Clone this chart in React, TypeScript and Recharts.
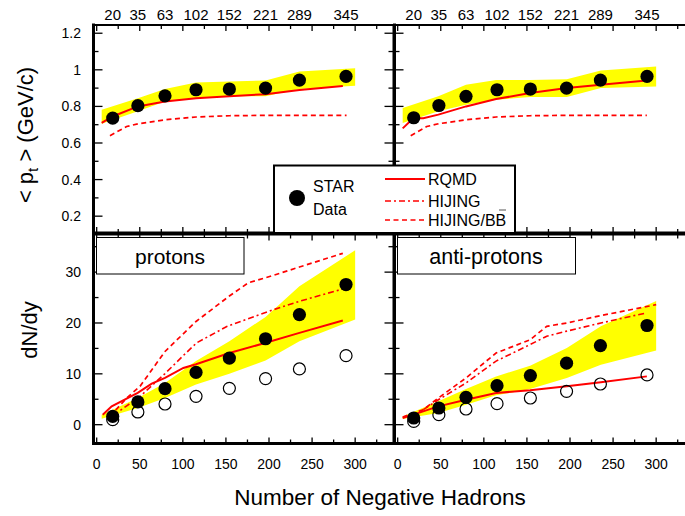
import React from 'react';
import { ComposedChart, Area, Line, Scatter, XAxis, YAxis } from 'recharts';

// ---------------- ticks & labels ----------------
const xMajorTicks = [0, 50, 100, 150, 200, 250, 300];
const xMinorTicks = [25, 75, 125, 175, 225, 275, 325];
const xBottomLabels = ['0', '50', '100', '150', '200', '250', '300'];
const centralityX = [18.6, 47.8, 79.3, 115.3, 154, 196, 235.3, 289.4];
const centralityLabels = ['20', '35', '63', '102', '152', '221', '289', '345'];
const ptMajorTicks = [0.2, 0.4, 0.6, 0.8, 1, 1.2];
const ptMinorTicks = [0.3, 0.5, 0.7, 0.9, 1.1];
const ptTickLabels = ['0.2', '0.4', '0.6', '0.8', '1', '1.2'];
const dnMajorTicks = [0, 10, 20, 30];
const dnMinorTicks = [5, 15, 25, 35];
const dnTickLabels = ['0', '10', '20', '30'];

// ---------------- <pt> protons ----------------
const ptProtonStar = [0.736, 0.804, 0.858, 0.891, 0.895, 0.9, 0.944, 0.964];
const ptProtonBandX = [5.8, 47.8, 79.3, 115.3, 154, 196, 235.3, 300];
const ptProtonBandLo = [0.705, 0.773, 0.827, 0.845, 0.855, 0.855, 0.895, 0.913];
const ptProtonBandHi = [0.782, 0.845, 0.895, 0.931, 0.936, 0.942, 0.991, 1.009];
const ptProtonRqmdX = [5.8, 18.4, 47.8, 79.3, 115.3, 154, 196, 235.3, 285.7];
const ptProtonRqmd = [0.71, 0.745, 0.8, 0.827, 0.845, 0.855, 0.867, 0.89, 0.911];
const ptProtonBBX = [15.4, 34.8, 47.8, 79.3, 115.3, 154, 196, 235.3, 290];
const ptProtonBB = [0.64, 0.69, 0.705, 0.727, 0.742, 0.749, 0.751, 0.751, 0.751];

// ---------------- <pt> anti-protons ----------------
const ptAntiStar = [0.738, 0.805, 0.855, 0.891, 0.895, 0.9, 0.944, 0.964];
const ptAntiBandX = [5.8, 47.2, 79.3, 114.2, 153.7, 196.3, 235.8, 300];
const ptAntiBandLo = [0.709, 0.773, 0.809, 0.836, 0.851, 0.851, 0.9, 0.909];
const ptAntiBandHi = [0.791, 0.855, 0.918, 0.945, 0.945, 0.949, 0.996, 1.018];
const ptAntiRqmdX = [5.8, 18.1, 29.7, 47.2, 79.3, 114.2, 153.7, 196.3, 235.8, 289.2];
const ptAntiRqmd = [0.68, 0.735, 0.735, 0.755, 0.8, 0.84, 0.873, 0.9, 0.918, 0.942];
const ptAntiBBX = [15.1, 33.7, 47.2, 79.3, 114.2, 153.7, 196.3, 235.8, 289.2];
const ptAntiBB = [0.64, 0.69, 0.705, 0.727, 0.742, 0.749, 0.751, 0.751, 0.751];

// ---------------- dN/dy protons ----------------
const dnProtonStar = [1.63, 4.47, 7.09, 10.3, 13.1, 16.9, 21.65, 27.56];
const dnProtonOpen = [0.98, 2.5, 4.07, 5.57, 7.15, 9.06, 10.96, 13.58];
const dnProtonBandX = [5.8, 47.8, 79.3, 115.3, 154, 196, 235.3, 300];
const dnProtonBandLo = [1.18, 3.28, 5.26, 7.9, 10.0, 12.6, 16.4, 20.7];
const dnProtonBandHi = [1.97, 5.25, 8.2, 12.5, 16.4, 21.2, 27.2, 34.3];
const dnProtonRqmdX = [7.0, 17.4, 47.6, 63.9, 79.3, 100.6, 115.3, 154, 196.3, 235.3, 285.7];
const dnProtonRqmd = [1.97, 3.6, 6.24, 8.07, 9.19, 11.16, 11.9, 14.1, 16.1, 18.05, 20.5];
const dnProtonBBX = [15.4, 34.8, 50.3, 79.3, 115.3, 154, 176, 196.3, 235.3, 285.7];
const dnProtonBB = [1.63, 5.25, 7.54, 14.4, 20.3, 25.3, 27.9, 28.9, 31.0, 33.7];
const dnProtonHijX = [19, 50, 79, 100, 116, 151, 205, 236, 290];
const dnProtonHij = [1.8, 5.5, 10, 13.5, 16.1, 19.3, 22.6, 24.3, 26.9];

// ---------------- dN/dy anti-protons ----------------
const dnAntiStar = [1.31, 3.28, 5.38, 7.68, 9.65, 12.1, 15.55, 19.5];
const dnAntiOpen = [0.65, 1.97, 3.08, 4.13, 5.25, 6.56, 8.0, 9.78];
const dnAntiBandX = [5.8, 47.2, 79.3, 114.2, 153.7, 196.3, 235.8, 300];
const dnAntiBandLo = [1.12, 2.3, 3.94, 5.77, 7.0, 9.19, 11.8, 14.6];
const dnAntiBandHi = [1.63, 4.6, 7.0, 9.5, 11.6, 15.1, 19.35, 24.3];
const dnAntiRqmdX = [5.8, 18.1, 47.2, 79.3, 114.2, 153.7, 196.3, 235.8, 289.2];
const dnAntiRqmd = [1.31, 1.97, 3.6, 4.9, 6.24, 6.76, 7.55, 8.33, 9.5];
const dnAntiBBX = [5.8, 29.7, 47.2, 79.3, 114.2, 153.7, 173, 196.3, 235.8, 300];
const dnAntiBB = [1.5, 2.95, 5.25, 9.19, 14.1, 16.7, 19.35, 20.0, 21.45, 23.6];
const dnAntiHijX = [29.7, 47.2, 79.3, 114.2, 153.7, 173, 196.3, 235.8, 289.2];
const dnAntiHij = [2.95, 4.9, 8.2, 12.5, 15.75, 17.4, 18.4, 20.0, 22.0];

// ---------------- styling ----------------
const FONT = '"Liberation Sans", Arial, Helvetica, sans-serif';
const RED = '#ff0000';
const YELLOW = '#ffff00';
const W = 700;
const H = 516;
const X_DOMAIN: [number, number] = [-3.7, 344.5];
const PT_DOMAIN: [number, number] = [0.108, 1.245];
const DN_DOMAIN: [number, number] = [-3.7, 37.4];
const DASH = '5 3.5';
const DASHDOT = '6 3 2 3';

type Side = 'left' | 'right' | 'top' | 'bottom';

const idxOf = (arr: number[], v: number) => arr.findIndex((a) => Math.abs(a - v) < 1e-6);

const makeTick =
  (side: Side, majors: number[], minors: number[], labelValues: number[], labelTexts: string[], fontSize: number) =>
  (props: any) => {
    const { x, y, payload } = props;
    const v = Number(payload?.value);
    const vertical = side === 'left' || side === 'right';
    const majLen = vertical ? 9 : 6;
    const minLen = vertical ? 5 : 4;
    const len = idxOf(majors, v) >= 0 ? majLen : idxOf(minors, v) >= 0 ? minLen : 0;
    let line: any = null;
    if (len) {
      const common = { stroke: '#000', strokeWidth: 1.3 };
      if (side === 'left') line = <line x1={x} y1={y} x2={x + len} y2={y} {...common} />;
      if (side === 'right') line = <line x1={x} y1={y} x2={x - len} y2={y} {...common} />;
      if (side === 'top') line = <line x1={x} y1={y} x2={x} y2={y + len} {...common} />;
      if (side === 'bottom') line = <line x1={x} y1={y} x2={x} y2={y - len} {...common} />;
    }
    const li = idxOf(labelValues, v);
    let text: any = null;
    if (li >= 0) {
      const tp = { fontSize, fontFamily: FONT, fill: '#000' };
      if (side === 'left')
        text = (
          <text x={x - 12.5} y={y + 5} textAnchor="end" {...tp}>
            {labelTexts[li]}
          </text>
        );
      if (side === 'top')
        text = (
          <text x={x} y={y - 5} textAnchor="middle" {...tp}>
            {labelTexts[li]}
          </text>
        );
      if (side === 'bottom')
        text = (
          <text x={x} y={y + 25.5} textAnchor="middle" {...tp}>
            {labelTexts[li]}
          </text>
        );
    }
    return (
      <g>
        {line}
        {text}
      </g>
    );
  };

const toRows = (xs: number[], ys: number[]) => xs.map((x, i) => ({ x, y: ys[i] }));

const filledDot = (p: any) => <circle cx={p.cx} cy={p.cy} r={6.6} fill="#000" />;
const openDot = (p: any) => <circle cx={p.cx} cy={p.cy} r={6} fill="none" stroke="#000" strokeWidth={1.2} />;

interface PanelProps {
  left: number;
  top: number;
  right: number;
  bottom: number;
  kind: 'pt' | 'dn';
  showYLabels: boolean;
  bandX: number[];
  bandLo: number[];
  bandHi: number[];
  rqmdX: number[];
  rqmd: number[];
  bbX: number[];
  bb: number[];
  hijX?: number[];
  hij?: number[];
  star: number[];
  open?: number[];
}

function Panel(p: PanelProps) {
  const yDomain = p.kind === 'pt' ? PT_DOMAIN : DN_DOMAIN;
  const yMajor = p.kind === 'pt' ? ptMajorTicks : dnMajorTicks;
  const yMinor = p.kind === 'pt' ? ptMinorTicks : dnMinorTicks;
  const yLabels = p.kind === 'pt' ? ptTickLabels : dnTickLabels;
  const bandRows = p.bandX.map((x, i) => ({ x, band: [p.bandLo[i], p.bandHi[i]] }));
  const yTicks = [...yMajor, ...yMinor].sort((a, b) => a - b);
  const xTicksBottom = [...xMajorTicks, ...xMinorTicks].sort((a, b) => a - b);
  const xTicksTop = (p.kind === 'pt' ? [...xTicksBottom, ...centralityX] : xTicksBottom).sort((a, b) => a - b);
  const margin = { left: p.left - 1, right: W - p.right - 1, top: p.top - 1, bottom: H - p.bottom - 1 };
  const showBottomLabels = p.kind === 'dn';
  const showTopLabels = p.kind === 'pt';
  return (
    <div style={{ position: 'absolute', left: 0, top: 0 }}>
      <ComposedChart width={W} height={H} margin={margin} data={bandRows}>
        <Area
          xAxisId="b"
          yAxisId="l"
          type="linear"
          dataKey="band"
          stroke="none"
          fill={YELLOW}
          fillOpacity={1}
          isAnimationActive={false}
          dot={false}
          activeDot={false}
        />
        {p.hijX && p.hij && (
          <Line
            xAxisId="b"
            yAxisId="l"
            data={toRows(p.hijX, p.hij)}
            dataKey="y"
            type="linear"
            stroke={RED}
            strokeWidth={1.6}
            strokeDasharray={DASHDOT}
            dot={false}
            activeDot={false}
            isAnimationActive={false}
          />
        )}
        <Line
          xAxisId="b"
          yAxisId="l"
          data={toRows(p.bbX, p.bb)}
          dataKey="y"
          type="linear"
          stroke={RED}
          strokeWidth={1.7}
          strokeDasharray={DASH}
          dot={false}
          activeDot={false}
          isAnimationActive={false}
        />
        <Line
          xAxisId="b"
          yAxisId="l"
          data={toRows(p.rqmdX, p.rqmd)}
          dataKey="y"
          type="linear"
          stroke={RED}
          strokeWidth={2}
          dot={false}
          activeDot={false}
          isAnimationActive={false}
        />
        {p.open && (
          <Scatter
            xAxisId="b"
            yAxisId="l"
            data={toRows(centralityX, p.open)}
            dataKey="y"
            shape={openDot}
            isAnimationActive={false}
          />
        )}
        <Scatter
          xAxisId="b"
          yAxisId="l"
          data={toRows(centralityX, p.star)}
          dataKey="y"
          shape={filledDot}
          isAnimationActive={false}
        />
        <XAxis
          xAxisId="b"
          orientation="bottom"
          type="number"
          dataKey="x"
          domain={X_DOMAIN}
          allowDataOverflow
          ticks={xTicksBottom}
          interval={0}
          height={1}
          tickLine={false}
          tickSize={0}
          tickMargin={0}
          axisLine={{ stroke: '#000', strokeWidth: 3, strokeLinecap: 'square' }}
          tick={makeTick('bottom', xMajorTicks, xMinorTicks, showBottomLabels ? xMajorTicks : [], xBottomLabels, 14)}
        />
        <XAxis
          xAxisId="t"
          orientation="top"
          type="number"
          dataKey="x"
          domain={X_DOMAIN}
          allowDataOverflow
          ticks={xTicksTop}
          interval={0}
          height={1}
          tickLine={false}
          tickSize={0}
          tickMargin={0}
          axisLine={{ stroke: '#000', strokeWidth: 2, strokeLinecap: 'square' }}
          tick={makeTick('top', xMajorTicks, xMinorTicks, showTopLabels ? centralityX : [], centralityLabels, 15)}
        />
        <YAxis
          yAxisId="l"
          orientation="left"
          type="number"
          dataKey="y"
          domain={yDomain}
          allowDataOverflow
          ticks={yTicks}
          interval={0}
          width={1}
          tickLine={false}
          tickSize={0}
          tickMargin={0}
          axisLine={{ stroke: '#000', strokeWidth: 3, strokeLinecap: 'square' }}
          tick={makeTick('left', yMajor, yMinor, p.showYLabels ? yMajor : [], yLabels, 14)}
        />
        <YAxis
          yAxisId="r"
          orientation="right"
          type="number"
          dataKey="y"
          domain={yDomain}
          allowDataOverflow
          ticks={yTicks}
          interval={0}
          width={1}
          tickLine={false}
          tickSize={0}
          tickMargin={0}
          axisLine={{ stroke: '#000', strokeWidth: 2, strokeLinecap: 'square' }}
          tick={makeTick('right', yMajor, yMinor, [], [], 14)}
        />
      </ComposedChart>
    </div>
  );
}

function Overlay() {
  const t = { fontFamily: FONT, fill: '#000' };
  return (
    <svg width={685} height={516} style={{ position: 'absolute', left: 0, top: 0, pointerEvents: 'none' }}>
      {/* panel labels */}
      <rect x={96.5} y={237.5} width={147.5} height={36.5} fill="#fff" stroke="#000" strokeWidth={1} />
      <text x={170} y={264} textAnchor="middle" fontSize={21} {...t}>
        protons
      </text>
      <rect x={397.5} y={237.5} width={178} height={36.5} fill="#fff" stroke="#000" strokeWidth={1} />
      <text x={486} y={264} textAnchor="middle" fontSize={21.5} {...t}>
        anti-protons
      </text>

      {/* legend */}
      <rect x={274} y={165.5} width={241} height={67.5} fill="#fff" stroke="#000" strokeWidth={2} />
      <circle cx={297} cy={198} r={8} fill="#000" />
      <text x={313} y={191.5} fontSize={16} {...t}>
        STAR
      </text>
      <text x={313} y={215} fontSize={16} {...t}>
        Data
      </text>
      <line x1={385} y1={179} x2={425} y2={179} stroke={RED} strokeWidth={2} />
      <text x={428} y={185} fontSize={16} {...t}>
        RQMD
      </text>
      <line x1={385} y1={201} x2={425} y2={201} stroke={RED} strokeWidth={1.6} strokeDasharray={DASHDOT} />
      <text x={428} y={206.5} fontSize={16} {...t}>
        HIJING
      </text>
      <line x1={385} y1={220} x2={425} y2={220} stroke={RED} strokeWidth={1.7} strokeDasharray={DASH} />
      <text x={428} y={225.5} fontSize={16} {...t}>
        HIJING/BB
      </text>
      <line x1={499} y1={210} x2={506} y2={210} stroke="#555" strokeWidth={1} />

      {/* axis titles */}
      <text x={380} y={505} textAnchor="middle" fontSize={22.5} {...t}>
        Number of Negative Hadrons
      </text>
      <g transform="translate(37,330) rotate(-90)">
        <text x={0} y={0} textAnchor="middle" fontSize={22} {...t}>
          dN/dy
        </text>
      </g>
      <g transform="translate(33,135) rotate(-90)">
        <text x={0} y={0} textAnchor="middle" fontSize={22} {...t}>
          {'< p'}
          <tspan fontSize={15} dy={5}>
            t
          </tspan>
          <tspan dy={-5}>{' > (GeV/c)'}</tspan>
        </text>
      </g>
    </svg>
  );
}

export default function App() {
  return (
    <div
      style={{
        position: 'absolute',
        left: 0,
        top: 0,
        width: 685,
        height: 516,
        overflow: 'hidden',
        background: '#fff',
        fontFamily: FONT,
      }}
    >
      <Panel
        left={93.5}
        top={25}
        right={393.5}
        bottom={233}
        kind="pt"
        showYLabels
        bandX={ptProtonBandX}
        bandLo={ptProtonBandLo}
        bandHi={ptProtonBandHi}
        rqmdX={ptProtonRqmdX}
        rqmd={ptProtonRqmd}
        bbX={ptProtonBBX}
        bb={ptProtonBB}
        star={ptProtonStar}
      />
      <Panel
        left={394.5}
        top={25}
        right={694.5}
        bottom={233}
        kind="pt"
        showYLabels={false}
        bandX={ptAntiBandX}
        bandLo={ptAntiBandLo}
        bandHi={ptAntiBandHi}
        rqmdX={ptAntiRqmdX}
        rqmd={ptAntiRqmd}
        bbX={ptAntiBBX}
        bb={ptAntiBB}
        star={ptAntiStar}
      />
      <Panel
        left={93.5}
        top={234.5}
        right={393.5}
        bottom={443.5}
        kind="dn"
        showYLabels
        bandX={dnProtonBandX}
        bandLo={dnProtonBandLo}
        bandHi={dnProtonBandHi}
        rqmdX={dnProtonRqmdX}
        rqmd={dnProtonRqmd}
        bbX={dnProtonBBX}
        bb={dnProtonBB}
        hijX={dnProtonHijX}
        hij={dnProtonHij}
        star={dnProtonStar}
        open={dnProtonOpen}
      />
      <Panel
        left={394.5}
        top={234.5}
        right={694.5}
        bottom={443.5}
        kind="dn"
        showYLabels={false}
        bandX={dnAntiBandX}
        bandLo={dnAntiBandLo}
        bandHi={dnAntiBandHi}
        rqmdX={dnAntiRqmdX}
        rqmd={dnAntiRqmd}
        bbX={dnAntiBBX}
        bb={dnAntiBB}
        hijX={dnAntiHijX}
        hij={dnAntiHij}
        star={dnAntiStar}
        open={dnAntiOpen}
      />
      <Overlay />
    </div>
  );
}
